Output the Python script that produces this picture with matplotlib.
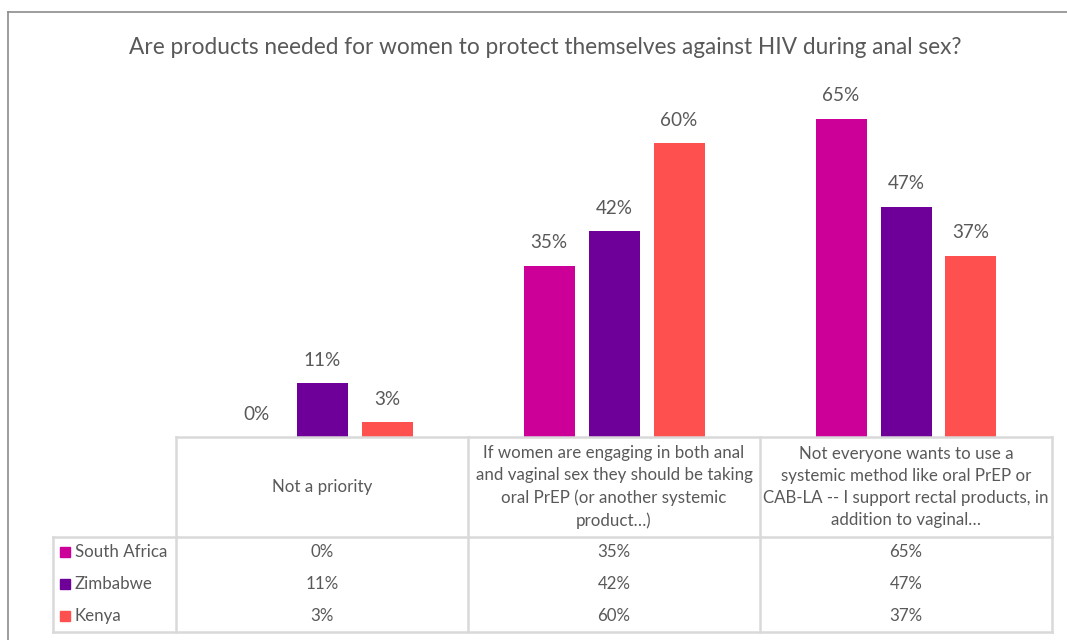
import matplotlib.pyplot as plt
import numpy as np

categories = ['Not a priority',
              'If women are engaging in both anal\nand vaginal sex they should be taking\noral PrEP (or another systemic\nproduct…)',
              'Not everyone wants to use a\nsystemic method like oral PrEP or\nCAB-LA -- I support rectal products, in\naddition to vaginal…']
countries = ['South Africa', 'Zimbabwe', 'Kenya']
south_africa = [0, 35, 65]
zimbabwe = [11, 42, 47]
kenya = [3, 60, 37]
colors = ['#CC0099', '#6E0099', '#FF5050']

W, H = 1067, 640
FONT = 'Lato'
TXT = '#595959'
GRID = '#D9D9D9'


def fx(px):
    return px / W


def fy(py):
    return 1 - py / H


fig = plt.figure(figsize=(W / 100, H / 100), dpi=100)

# chart frame
fig.add_artist(plt.Line2D([fx(8), fx(8)], [fy(12), fy(640)], color='#8C8C8C', lw=1.2))
fig.add_artist(plt.Line2D([fx(8), fx(1067)], [fy(12), fy(12)], color='#8C8C8C', lw=1.2))

fig.text(fx(545), fy(47), 'Are products needed for women to protect themselves against HIV during anal sex?',
         ha='center', va='center', fontsize=16.3, color=TXT, family=FONT)

# plot area: x 176..1052, baseline y=437, 70% at y=94
ax = fig.add_axes([fx(176), fy(437), fx(1052) - fx(176), (437 - 94) / H])
ax.set_xlim(0, 3)
ax.set_ylim(0, 70)
ax.axis('off')

series = [south_africa, zimbabwe, kenya]
x = np.arange(3) + 0.5
bw = 51 / 292
step = 65 / 292
for i, (vals, c) in enumerate(zip(series, colors)):
    pos = x + (i - 1) * step
    ax.bar(pos, vals, width=bw, color=c)
    for p, v in zip(pos, vals):
        ax.annotate(f'{v}%', (p, v), xytext=(0, 23), textcoords='offset pixels',
                    ha='center', va='center', fontsize=13.6, color=TXT, family=FONT)

# data table
cols = [176, 468, 760, 1052]
lw = 1.8
fig.add_artist(plt.Line2D([fx(176), fx(1052)], [fy(437), fy(437)], color=GRID, lw=lw))
for yy in (537, 632):
    fig.add_artist(plt.Line2D([fx(53), fx(1052)], [fy(yy), fy(yy)], color=GRID, lw=lw))
for xx in cols:
    fig.add_artist(plt.Line2D([fx(xx), fx(xx)], [fy(437), fy(632)], color=GRID, lw=lw))
fig.add_artist(plt.Line2D([fx(53), fx(53)], [fy(537), fy(632)], color=GRID, lw=lw))

for j, cat in enumerate(categories):
    cx = (cols[j] + cols[j + 1]) / 2
    fig.text(fx(cx), fy(487), cat, ha='center', va='center', fontsize=12.2, color=TXT,
             family=FONT, linespacing=1.45)

row_y = [552, 584, 616]
for i, (name, vals, c) in enumerate(zip(countries, series, colors)):
    fig.add_artist(plt.Rectangle((fx(60), fy(row_y[i] + 5)), 10 / W, 10 / H, color=c))
    fig.text(fx(75), fy(row_y[i]), name, ha='left', va='center', fontsize=12.2, color=TXT, family=FONT)
    for j, v in enumerate(vals):
        cx = (cols[j] + cols[j + 1]) / 2
        fig.text(fx(cx), fy(row_y[i]), f'{v}%', ha='center', va='center', fontsize=12.2,
                 color=TXT, family=FONT)

fig.savefig('out.png', dpi=100)
